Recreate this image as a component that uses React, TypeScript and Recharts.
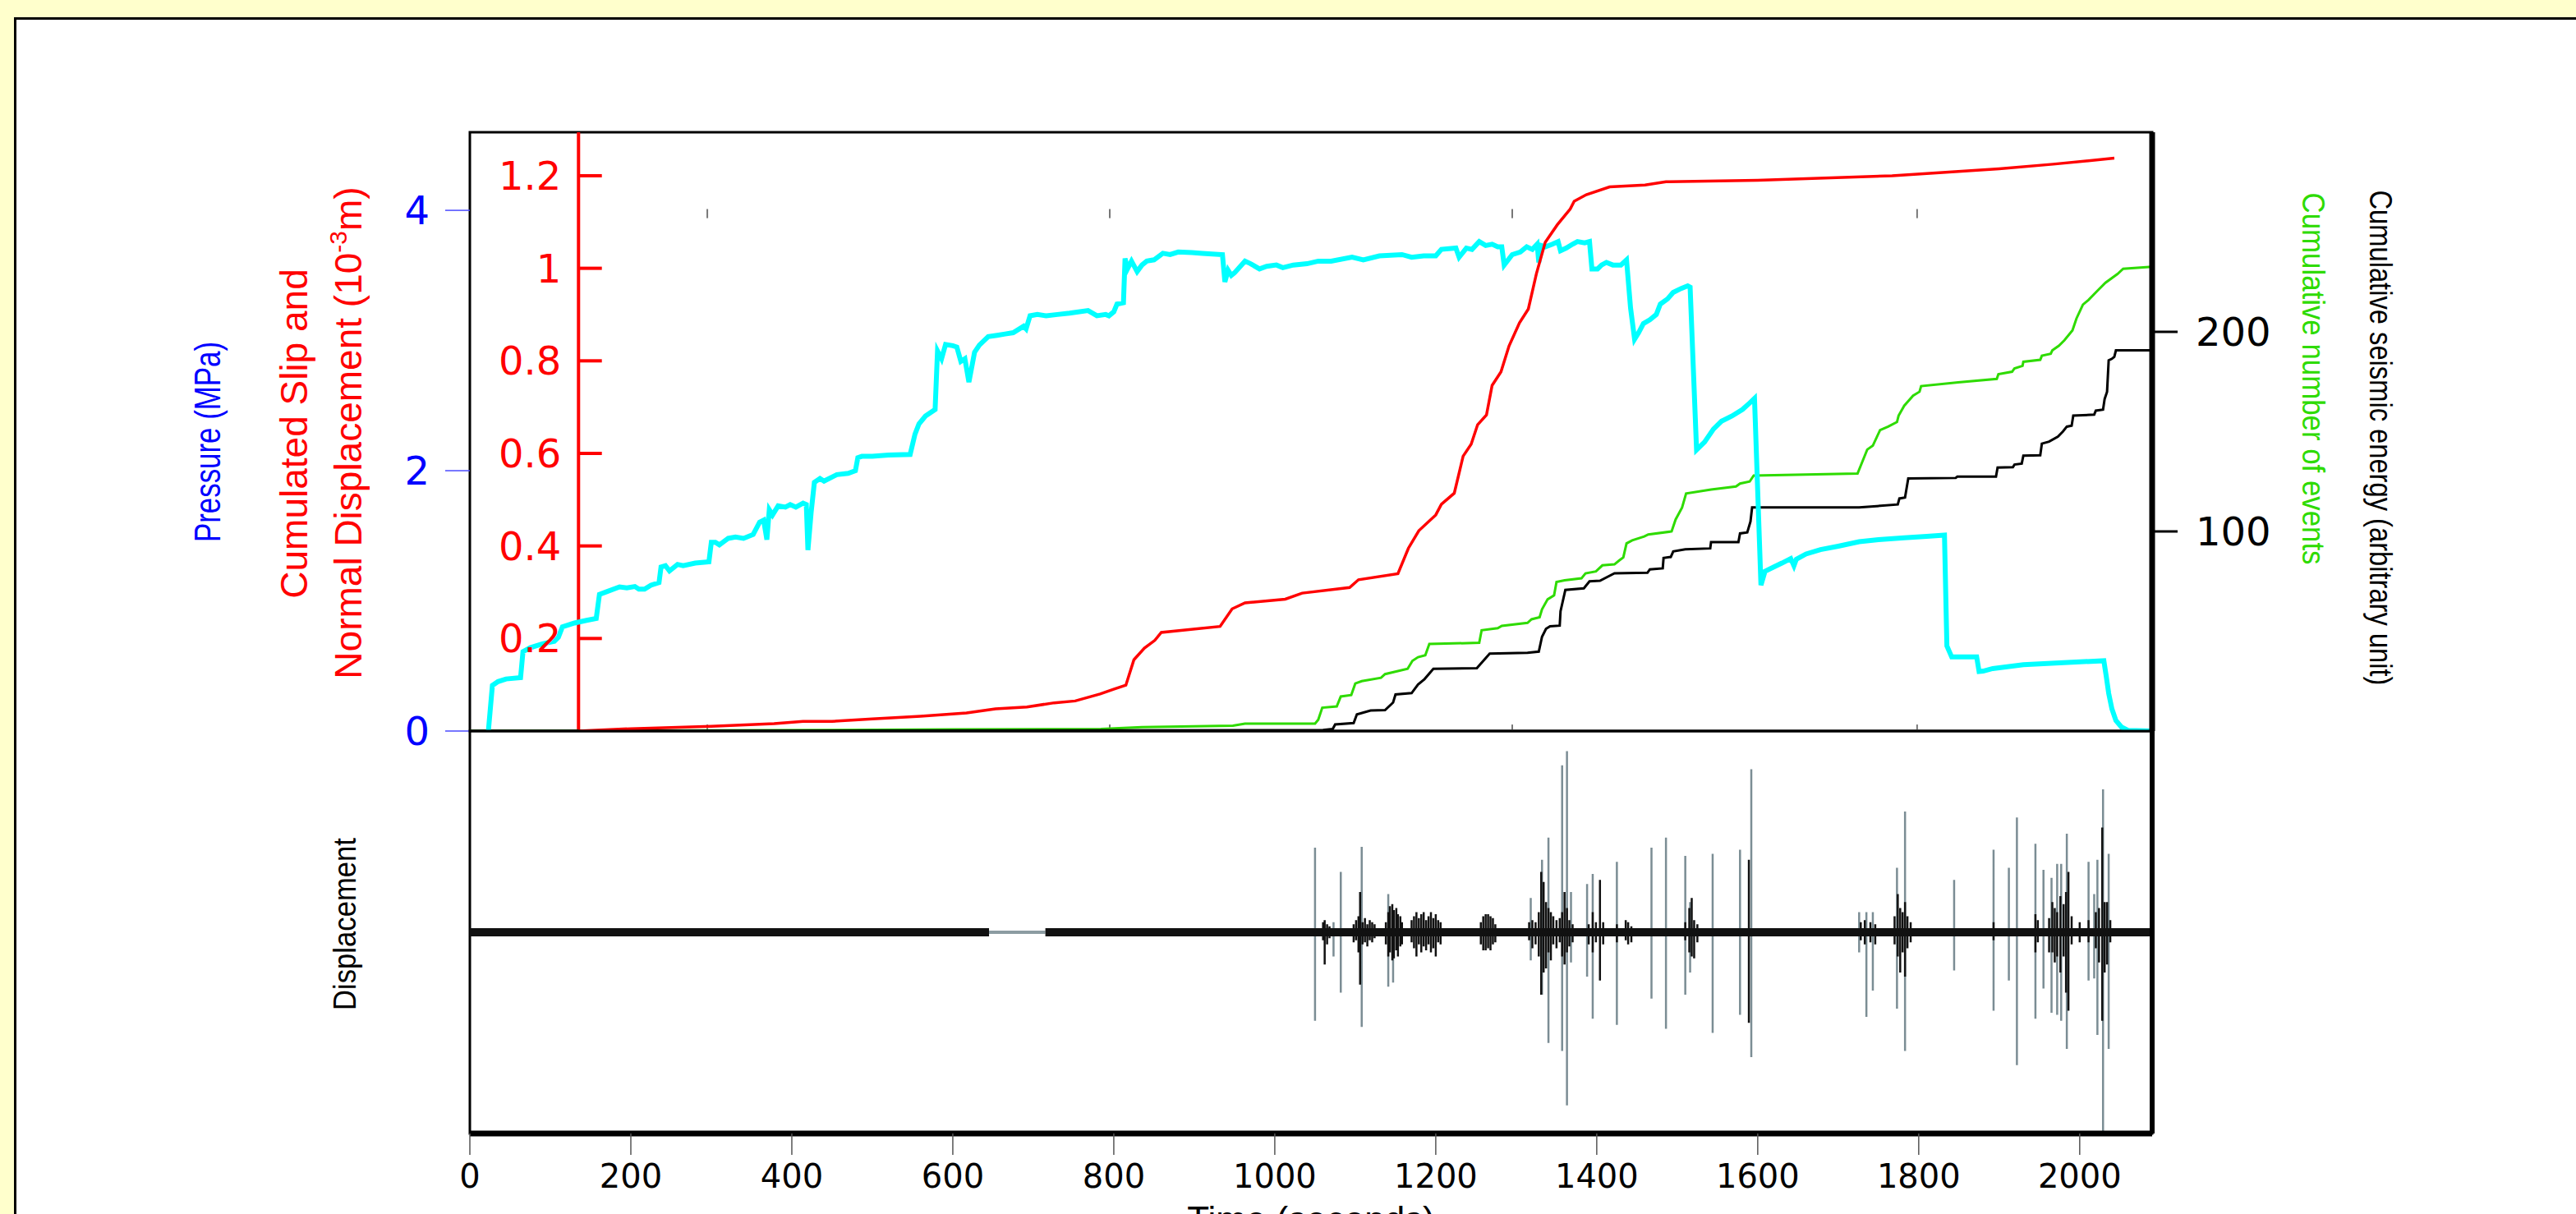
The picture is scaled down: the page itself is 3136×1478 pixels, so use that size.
import React from 'react';
import { ComposedChart, Line, XAxis, YAxis, ReferenceLine, ReferenceArea } from 'recharts';

type Pt = [number, number];
type Spike = [number, number, number]; // time, up, down

// upper panel, time in seconds
const pressure: Pt[] = [
  [23, 0], [28, 0.35], [35, 0.38], [45, 0.4], [63, 0.41], [66, 0.61], [75, 0.64], [90, 0.67], [105, 0.69],
  [110, 0.72], [115, 0.8], [130, 0.83], [145, 0.85], [157, 0.865], [161, 1.05], [170, 1.07], [186, 1.107],
  [195, 1.1], [205, 1.11], [210, 1.09], [217, 1.09], [225, 1.12], [235, 1.14], [237.5, 1.26], [243, 1.27],
  [248, 1.23], [258, 1.28], [265, 1.27], [280, 1.29], [297, 1.3], [300, 1.45], [305, 1.45], [310, 1.43],
  [321, 1.48], [330, 1.49], [340, 1.48], [352, 1.51], [360, 1.605], [365, 1.62], [369, 1.47], [372, 1.7],
  [376, 1.66], [383, 1.73], [392, 1.72], [398, 1.74], [405, 1.72], [414, 1.75], [418, 1.74], [420, 1.39],
  [424, 1.68], [428, 1.91], [435, 1.94], [440, 1.92], [456, 1.97], [470, 1.98], [479, 2.0], [482, 2.1],
  [487, 2.11], [500, 2.11], [520, 2.12], [547, 2.125], [553, 2.28], [558, 2.36], [566, 2.42], [578, 2.47],
  [581, 2.92], [586, 2.86], [591, 2.97], [600, 2.96], [605, 2.95], [610, 2.84], [615, 2.86], [620, 2.68],
  [627, 2.91], [633, 2.965], [644, 3.03], [655, 3.04], [665, 3.05], [675, 3.06], [688, 3.11], [691, 3.09],
  [696, 3.19], [705, 3.2], [716, 3.19], [730, 3.2], [745, 3.21], [768, 3.23], [779, 3.19], [790, 3.2],
  [794, 3.19], [800, 3.22], [804, 3.28], [812, 3.29], [814, 3.63], [817, 3.55], [822, 3.61], [829, 3.53],
  [835, 3.58], [841, 3.61], [850, 3.62], [861, 3.67], [870, 3.66], [880, 3.68], [897, 3.675], [910, 3.67],
  [935, 3.66], [938, 3.45], [942, 3.54], [946, 3.5], [950, 3.52], [963, 3.61], [970, 3.59], [981, 3.55],
  [990, 3.57], [1002, 3.58], [1010, 3.56], [1023, 3.58], [1040, 3.59], [1054, 3.61], [1070, 3.61],
  [1096, 3.64], [1110, 3.62], [1130, 3.65], [1158, 3.66], [1170, 3.64], [1185, 3.65], [1200, 3.65],
  [1207, 3.7], [1225, 3.71], [1229, 3.64], [1238, 3.71], [1245, 3.7], [1254, 3.76], [1262, 3.73],
  [1270, 3.74], [1277, 3.72], [1282, 3.72], [1285, 3.58], [1295, 3.66], [1305, 3.68], [1313, 3.72],
  [1320, 3.7], [1326, 3.74], [1328, 3.6], [1331, 3.73], [1336, 3.72], [1345, 3.74], [1352, 3.76],
  [1355, 3.69], [1362, 3.71], [1370, 3.74], [1376, 3.76], [1385, 3.75], [1391, 3.76], [1394, 3.55],
  [1401, 3.55], [1406, 3.58], [1412, 3.6], [1420, 3.58], [1430, 3.58], [1437, 3.62], [1442, 3.25],
  [1447, 3.01], [1452, 3.06], [1458, 3.13], [1466, 3.16], [1474, 3.2], [1479, 3.28], [1488, 3.32],
  [1495, 3.37], [1505, 3.4], [1513, 3.42], [1516, 3.41], [1524, 2.16], [1534, 2.22], [1545, 2.32],
  [1555, 2.38], [1568, 2.42], [1581, 2.47], [1590, 2.52], [1596, 2.555], [1604, 1.12], [1609, 1.227],
  [1620, 1.26], [1630, 1.29], [1641, 1.325], [1645, 1.27], [1648, 1.32], [1660, 1.36], [1678, 1.394],
  [1700, 1.42], [1726, 1.454], [1750, 1.47], [1782, 1.484], [1810, 1.495], [1832, 1.505], [1835, 0.654],
  [1841, 0.569], [1872, 0.569], [1875, 0.457], [1880, 0.46], [1892, 0.48], [1930, 0.509], [1980, 0.525],
  [2030, 0.54], [2033, 0.42], [2036, 0.29], [2040, 0.17], [2045, 0.08], [2052, 0.03], [2060, 0.005], [2090, 0],
];

const slip: Pt[] = [
  [135, 0], [200, 0.005], [300, 0.01], [378, 0.016], [414, 0.021], [450, 0.021], [500, 0.026], [560, 0.032],
  [617, 0.039], [653, 0.048], [692, 0.052], [726, 0.061], [752, 0.065], [783, 0.08], [799, 0.09], [815, 0.099],
  [825, 0.154], [838, 0.179], [851, 0.196], [859, 0.213], [932, 0.226], [947, 0.264], [963, 0.277],
  [1013, 0.285], [1034, 0.298], [1093, 0.31], [1104, 0.327], [1153, 0.34], [1166, 0.395], [1179, 0.433],
  [1200, 0.467], [1207, 0.49], [1223, 0.514], [1234, 0.594], [1244, 0.62], [1252, 0.662], [1263, 0.683],
  [1270, 0.747], [1281, 0.776], [1291, 0.832], [1304, 0.882], [1315, 0.912], [1325, 0.988], [1336, 1.056],
  [1351, 1.094], [1367, 1.128], [1372, 1.145], [1387, 1.159], [1416, 1.176], [1460, 1.18], [1486, 1.187],
  [1600, 1.19], [1767, 1.2], [1900, 1.215], [1967, 1.225], [2043, 1.238],
];

const events: Pt[] = [
  [0, 0], [300, 0.3], [600, 0.8], [784, 1], [835, 2], [948, 2.7], [963, 3.7], [1050, 3.7], [1054, 5.7],
  [1059, 11.7], [1077, 12.3], [1082, 17.3], [1095, 18], [1100, 23.8], [1108, 25], [1132, 26.7], [1137, 28.5],
  [1165, 31.2], [1171, 35.2], [1178, 37], [1187, 38], [1192, 43.6], [1254, 44.2], [1257, 50.5], [1277, 51.5],
  [1282, 52.7], [1314, 54.2], [1319, 56], [1329, 57], [1332, 61], [1339, 66], [1347, 68], [1350, 74.7],
  [1360, 75.5], [1381, 76.5], [1386, 79], [1399, 80], [1407, 83], [1422, 83.5], [1428, 85.5], [1433, 87],
  [1437, 94], [1444, 95.5], [1459, 97.5], [1464, 98.5], [1493, 100], [1498, 106], [1506, 112], [1511, 119],
  [1542, 121], [1573, 122.5], [1578, 124], [1590, 125], [1595, 128], [1724, 129], [1730, 135], [1736, 141],
  [1743, 143], [1752, 150.8], [1762, 152.5], [1773, 154.8], [1775, 158], [1782, 163], [1793, 168],
  [1801, 170], [1803, 172.8], [1849, 174.7], [1897, 176.4], [1899, 178.8], [1916, 180], [1919, 181.7],
  [1929, 183], [1930, 185], [1951, 186], [1953, 188], [1964, 189], [1966, 190.7], [1974, 193], [1981, 195.8],
  [1991, 200.7], [1996, 206.7], [2004, 213.6], [2011, 216], [2022, 220.6], [2032, 224.6], [2047, 229],
  [2054, 231.6], [2090, 232.6],
];

const energy: Pt[] = [
  [0, 0], [1060, 0.5], [1072, 1], [1075, 3.3], [1098, 4], [1102, 8.3], [1119, 10.3], [1137, 10.5],
  [1147, 14.3], [1150, 18.3], [1170, 19], [1178, 23.3], [1186, 26], [1197, 31.2], [1251, 31.5], [1267, 38.8],
  [1314, 39.2], [1328, 39.8], [1332, 47.2], [1337, 51.2], [1342, 52.5], [1354, 52.8], [1355, 60],
  [1361, 70.7], [1384, 71.5], [1391, 75], [1404, 75.3], [1422, 79], [1463, 79.3], [1466, 81], [1482, 81.5],
  [1483, 86.7], [1492, 87.2], [1495, 90], [1510, 91], [1541, 91.5], [1542, 94.6], [1576, 94.6], [1578, 99],
  [1587, 99.5], [1591, 105], [1593, 112], [1726, 112], [1774, 113.5], [1776, 116.5], [1783, 117],
  [1787, 126.5], [1846, 126.8], [1848, 127.5], [1896, 127.5], [1898, 132], [1917, 132.2], [1919, 133.5],
  [1928, 134], [1930, 138], [1951, 138.2], [1953, 144], [1962, 145], [1973, 147.5], [1979, 150],
  [1984, 152.5], [1990, 153], [1992, 158], [2018, 158.5], [2020, 160.5], [2029, 161], [2031, 166.4],
  [2034, 170], [2036, 185.7], [2040, 186.5], [2043, 187.5], [2045, 190.7], [2090, 190.7],
];

// lower panel, displacement record
const greySpikes: Spike[] = [
  [1050, 0.42, -0.44], [1073, 0.05, -0.12], [1082, 0.3, -0.3], [1108, 0.425, -0.47], [1141, 0.19, -0.27],
  [1147, 0.1, -0.25], [1318, 0.17, -0.14], [1332, 0.36, -0.31], [1340, 0.47, -0.55], [1357, 0.83, -0.59],
  [1363, 0.9, -0.86], [1368, 0.2, -0.15], [1388, 0.24, -0.22], [1395, 0.29, -0.43], [1425, 0.35, -0.46],
  [1468, 0.42, -0.33], [1486, 0.47, -0.48], [1510, 0.38, -0.31], [1516, 0.15, -0.2], [1544, 0.39, -0.5],
  [1578, 0.41, -0.41], [1592, 0.81, -0.62], [1726, 0.1, -0.1], [1735, 0.1, -0.42], [1743, 0.1, -0.29],
  [1773, 0.32, -0.38], [1783, 0.6, -0.59], [1844, 0.26, -0.19], [1893, 0.41, -0.39], [1912, 0.32, -0.24],
  [1922, 0.57, -0.66], [1945, 0.44, -0.43], [1955, 0.31, -0.28], [1965, 0.27, -0.4], [1972, 0.34, -0.41],
  [1977, 0.34, -0.44], [1984, 0.49, -0.58], [2011, 0.35, -0.24], [2018, 0.19, -0.23], [2022, 0.36, -0.51],
  [2029, 0.71, -0.99], [2036, 0.39, -0.58],
];

const blackSpikes: Spike[] = [
  [1060, 0.05, -0.04], [1062, 0.06, -0.16], [1065, 0.04, -0.06], [1068, 0.03, -0.03],
  [1098, 0.04, -0.05], [1101, 0.06, -0.04], [1104, 0.08, -0.1], [1106, 0.2, -0.26], [1109, 0.05, -0.06],
  [1112, 0.07, -0.05], [1115, 0.04, -0.07], [1118, 0.06, -0.04], [1121, 0.05, -0.05], [1124, 0.04, -0.03],
  [1138, 0.05, -0.06], [1141, 0.1, -0.12], [1143, 0.13, -0.1], [1146, 0.14, -0.14], [1148, 0.11, -0.13],
  [1151, 0.12, -0.09], [1153, 0.09, -0.12], [1156, 0.08, -0.07], [1158, 0.05, -0.06],
  [1170, 0.06, -0.05], [1173, 0.08, -0.08], [1176, 0.1, -0.12], [1179, 0.07, -0.06], [1182, 0.09, -0.1],
  [1185, 0.1, -0.07], [1188, 0.06, -0.09], [1191, 0.08, -0.06], [1194, 0.1, -0.1], [1197, 0.07, -0.08],
  [1200, 0.09, -0.12], [1203, 0.06, -0.05], [1206, 0.05, -0.06],
  [1256, 0.05, -0.06], [1259, 0.08, -0.09], [1262, 0.09, -0.09], [1265, 0.09, -0.08], [1268, 0.08, -0.09],
  [1271, 0.07, -0.06], [1274, 0.04, -0.05],
  [1316, 0.05, -0.04], [1320, 0.06, -0.08], [1324, 0.05, -0.06], [1328, 0.1, -0.12], [1331, 0.3, -0.31],
  [1334, 0.25, -0.2], [1337, 0.15, -0.18], [1340, 0.12, -0.1], [1343, 0.1, -0.14], [1346, 0.08, -0.06],
  [1350, 0.06, -0.08], [1354, 0.07, -0.05], [1357, 0.1, -0.12], [1360, 0.2, -0.16], [1363, 0.12, -0.1],
  [1366, 0.06, -0.07], [1370, 0.04, -0.05],
  [1390, 0.04, -0.06], [1395, 0.1, -0.1], [1399, 0.05, -0.05], [1404, 0.26, -0.24], [1408, 0.05, -0.06],
  [1425, 0.04, -0.05], [1436, 0.06, -0.04], [1439, 0.05, -0.06], [1443, 0.03, -0.05],
  [1510, 0.05, -0.04], [1515, 0.12, -0.1], [1518, 0.17, -0.12], [1521, 0.06, -0.13], [1525, 0.04, -0.05],
  [1589, 0.36, -0.45],
  [1728, 0.05, -0.04], [1733, 0.06, -0.06], [1740, 0.05, -0.05], [1746, 0.04, -0.06],
  [1770, 0.08, -0.06], [1774, 0.19, -0.12], [1777, 0.12, -0.2], [1780, 0.1, -0.1], [1783, 0.15, -0.22],
  [1786, 0.08, -0.08], [1790, 0.05, -0.05],
  [1893, 0.05, -0.04], [1945, 0.09, -0.1], [1948, 0.06, -0.05],
  [1962, 0.07, -0.1], [1966, 0.15, -0.1], [1969, 0.12, -0.15], [1972, 0.1, -0.12], [1976, 0.18, -0.2],
  [1980, 0.14, -0.12], [1983, 0.2, -0.3], [1986, 0.3, -0.39], [1990, 0.08, -0.06],
  [2000, 0.05, -0.05], [2011, 0.06, -0.05], [2020, 0.1, -0.08], [2024, 0.12, -0.15], [2028, 0.52, -0.44],
  [2031, 0.15, -0.2], [2034, 0.15, -0.16], [2038, 0.06, -0.05],
];

// stretches of background noise, and the quiet gap between them
const noiseSegments: Pt[] = [[0, 645], [715, 2090]];
const quietGap: Pt = [645, 715];

const timeTicks = [0, 200, 400, 600, 800, 1000, 1200, 1400, 1600, 1800, 2000];
const pressureTicks = [0, 2, 4];
const slipTicks = [0.2, 0.4, 0.6, 0.8, 1, 1.2];
const rightTicks = [100, 200];
const faintMarks = [295, 795, 1295, 1798];
const slipAxisAt = 135;

const T_MAX = 2090;
const P_MAX = 4.6;
const S_MAX = 1.294;
const R_MAX = 300;

const CYAN = '#00ffff';
const RED = '#ff0000';
const GREEN = '#2edb00';
const BLUE = '#0000ff';
const NUM_FONT = 'DejaVu Sans';
const TXT_FONT = '"Liberation Sans", Arial, sans-serif';

const rows = (pts: Pt[]) => pts.map(([t, v]) => ({ t, v }));
const trace = (spikes: Spike[]) =>
  spikes.flatMap(([t, up, down]) => [
    { t, v: 0 },
    { t, v: up },
    { t, v: down },
    { t, v: 0 },
  ]);
const bandRows = noiseSegments.flatMap(([a, b], i) => {
  const seg = [{ t: a, v: 0 as number | null }, { t: b, v: 0 as number | null }];
  return i < noiseSegments.length - 1 ? [...seg, { t: (b + noiseSegments[i + 1][0]) / 2, v: null }] : seg;
});
const gapRows = quietGap.map((t) => ({ t, v: 0 }));

function Titles() {
  return (
    <svg width={3136} height={1478} style={{ position: 'absolute', left: 0, top: 0, pointerEvents: 'none' }}>
      <text transform="translate(268,538) rotate(-90)" textAnchor="middle" fill={BLUE}
        fontFamily={TXT_FONT} fontSize={44} textLength={244} lengthAdjust="spacingAndGlyphs">
        Pressure (MPa)
      </text>
      <text transform="translate(374,528) rotate(-90)" textAnchor="middle" fill={RED}
        fontFamily={TXT_FONT} fontSize={46}>
        Cumulated Slip and
      </text>
      <text transform="translate(440,527) rotate(-90)" textAnchor="middle" fill={RED}
        fontFamily={TXT_FONT} fontSize={46}>
        Normal Displacement (10<tspan fontSize={30} dy={-18}>-3</tspan><tspan dy={18}>m)</tspan>
      </text>
      <text transform="translate(2803,461) rotate(90)" textAnchor="middle" fill={GREEN}
        fontFamily={TXT_FONT} fontSize={38} textLength={453} lengthAdjust="spacingAndGlyphs">
        Cumulative number of events
      </text>
      <text transform="translate(2885,533) rotate(90)" textAnchor="middle" fill="#000"
        fontFamily={TXT_FONT} fontSize={38} textLength={603} lengthAdjust="spacingAndGlyphs">
        Cumulative seismic energy (arbitrary unit)
      </text>
      <text transform="translate(433,1125) rotate(-90)" textAnchor="middle" fill="#000"
        fontFamily={TXT_FONT} fontSize={38} textLength={210} lengthAdjust="spacingAndGlyphs">
        Displacement
      </text>
      <text x={1596} y={1500} textAnchor="middle" fill="#000" fontFamily={TXT_FONT} fontSize={44}>
        Time (seconds)
      </text>
    </svg>
  );
}

export default function App() {
  return (
    <div style={{ position: 'absolute', left: 0, top: 0, width: 3136, height: 1478, background: '#ffffcc', overflow: 'hidden' }}>
      <div style={{ position: 'absolute', left: 17, top: 21, width: 3200, height: 1500, background: '#fff',
        borderLeft: '3px solid #000', borderTop: '3px solid #000' }} />

      <div style={{ position: 'absolute', left: 0, top: 0 }}>
        <ComposedChart width={3136} height={1000} margin={{ top: 161, right: 0, bottom: 110, left: 0 }}>
          <XAxis dataKey="t" type="number" domain={[0, T_MAX]} hide allowDataOverflow />
          <YAxis yAxisId="p" orientation="left" width={572} domain={[0, P_MAX]} ticks={pressureTicks}
            interval={0} allowDataOverflow axisLine={false} tickSize={30} tickMargin={19}
            tickLine={{ stroke: '#4a4aff', strokeWidth: 1.5 }}
            tick={{ fill: BLUE, fontSize: 48, fontFamily: NUM_FONT }} />
          <YAxis yAxisId="s" hide domain={[0, S_MAX]} allowDataOverflow />
          <YAxis yAxisId="r" orientation="right" width={516} domain={[0, R_MAX]} ticks={rightTicks}
            interval={0} allowDataOverflow axisLine={{ stroke: '#000', strokeWidth: 7 }} tickSize={31} tickMargin={22}
            tickLine={{ stroke: '#000', strokeWidth: 3 }}
            tick={{ fill: '#000', fontSize: 48, fontFamily: NUM_FONT }} />

          <ReferenceArea yAxisId="p" x1={0} x2={T_MAX} y1={0} y2={P_MAX} fill="none" fillOpacity={0}
            stroke="#000" strokeWidth={3} ifOverflow="visible" />
          {faintMarks.map((t) => (
            <ReferenceLine key={`top${t}`} yAxisId="p" segment={[{ x: t, y: 3.94 }, { x: t, y: 4.01 }]}
              stroke="#777" strokeWidth={2} />
          ))}
          {faintMarks.map((t) => (
            <ReferenceLine key={`bot${t}`} yAxisId="p" segment={[{ x: t, y: 0 }, { x: t, y: 0.05 }]}
              stroke="#777" strokeWidth={2} />
          ))}

          <ReferenceLine yAxisId="s" x={slipAxisAt} stroke={RED} strokeWidth={4} ifOverflow="visible" />
          {slipTicks.map((v) => (
            <ReferenceLine key={v} yAxisId="s"
              segment={[{ x: slipAxisAt, y: v }, { x: slipAxisAt + 29, y: v }]}
              stroke={RED} strokeWidth={4}
              label={{ value: String(v), position: 'left', offset: 21, fill: RED, fontSize: 48, fontFamily: NUM_FONT }} />
          ))}

          <Line yAxisId="r" data={rows(events)} dataKey="v" type="linear" stroke={GREEN} strokeWidth={3}
            dot={false} isAnimationActive={false} />
          <Line yAxisId="r" data={rows(energy)} dataKey="v" type="linear" stroke="#000" strokeWidth={3}
            dot={false} isAnimationActive={false} />
          <Line yAxisId="p" data={rows(pressure)} dataKey="v" type="linear" stroke={CYAN} strokeWidth={6}
            dot={false} isAnimationActive={false} />
          <Line yAxisId="s" data={rows(slip)} dataKey="v" type="linear" stroke={RED} strokeWidth={3.5}
            dot={false} isAnimationActive={false} />
        </ComposedChart>
      </div>

      <div style={{ position: 'absolute', left: 0, top: 0 }}>
        <ComposedChart width={3136} height={1478} margin={{ top: 890, right: 516, bottom: 0, left: 572 }}>
          <XAxis dataKey="t" type="number" domain={[0, T_MAX]} ticks={timeTicks} interval={0} allowDataOverflow
            height={98} axisLine={false} tickSize={26} tickMargin={12}
            tickLine={{ stroke: '#555', strokeWidth: 1.5 }}
            tick={{ fill: '#000', fontSize: 40, fontFamily: NUM_FONT }} />
          <YAxis hide domain={[-1, 1]} allowDataOverflow />
          <ReferenceArea x1={0} x2={T_MAX} y1={-1} y2={1} fill="none" fillOpacity={0} stroke="#000"
            strokeWidth={3} ifOverflow="visible" />

          <Line data={trace(greySpikes)} dataKey="v" type="linear" stroke="#7b8d94" strokeWidth={2.5}
            dot={false} isAnimationActive={false} />
          <Line data={gapRows} dataKey="v" type="linear" stroke="#8c9ca2" strokeWidth={4}
            dot={false} isAnimationActive={false} />
          <Line data={bandRows} dataKey="v" type="linear" stroke="#111" strokeWidth={10} connectNulls={false}
            dot={false} isAnimationActive={false} />
          <Line data={trace(blackSpikes)} dataKey="v" type="linear" stroke="#111" strokeWidth={2.5}
            dot={false} isAnimationActive={false} />

          <ReferenceLine y={-1} stroke="#000" strokeWidth={7} ifOverflow="visible" />
          <ReferenceLine x={T_MAX} stroke="#000" strokeWidth={6} ifOverflow="visible" />
        </ComposedChart>
      </div>

      <Titles />
    </div>
  );
}
